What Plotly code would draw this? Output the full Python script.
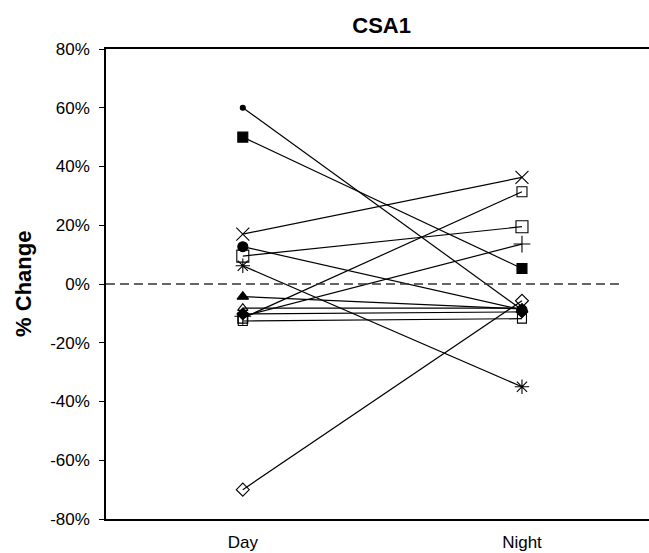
import plotly.graph_objects as go

# ---- data (percent change) ----
periods = ["Day", "Night"]
day_values = [60.0, 50.0, 17.0, 12.7, 9.5, 6.2, -4.3, -11.6, -11.0, -70.0, -8.2, -10.2, -12.6]
night_values = [-8.8, 5.3, 36.3, -8.8, 19.5, -35.0, -8.5, 31.4, 13.6, -5.7, -8.2, -9.5, -11.8]
subject_symbols = ["circle", "square", "x-thin-open", "circle", "square-open", "asterisk-open",
                   "triangle-up", "square-open", "cross-thin-open", "diamond-open",
                   "triangle-up-open", "diamond", "square-open"]
subject_sizes = [5, 10, 13, 10, 12, 12, 10, 10, 12, 10, 9, 9, 9]
y_tick_values = [-80, -60, -40, -20, 0, 20, 40, 60, 80]
y_tick_labels = ["-80%", "-60%", "-40%", "-20%", "0%", "20%", "40%", "60%", "80%"]

FONT = "Liberation Sans, Arial, sans-serif"

fig = go.Figure()
for i in range(len(day_values)):
    fig.add_trace(go.Scatter(
        x=[0, 1],
        y=[day_values[i], night_values[i]],
        mode="lines+markers",
        line=dict(color="black", width=1.2),
        marker=dict(symbol=subject_symbols[i], size=subject_sizes[i], color="black",
                    line=dict(color="black", width=1.1)),
        showlegend=False,
        hoverinfo="skip",
    ))

# dashed zero reference line
fig.add_shape(type="line", xref="x domain", yref="y", x0=0, x1=0.95, y0=0, y1=0,
              line=dict(color="#333333", width=1.3, dash="9px,5px"))

fig.add_annotation(text="<b>% Change</b>", textangle=-90, xref="paper", yref="paper",
                   x=-0.153, y=0.5, xanchor="center", yanchor="middle", showarrow=False,
                   font=dict(family=FONT, size=22, color="black"))

fig.update_layout(
    width=649, height=553,
    margin=dict(l=106, r=0, t=49, b=34),
    paper_bgcolor="white", plot_bgcolor="white",
    font=dict(family=FONT, size=17, color="black"),
    title=dict(text="<b>CSA1</b>", x=0.588, xanchor="center", y=0.955, yanchor="middle",
               font=dict(family=FONT, size=22, color="black")),
    xaxis=dict(range=[-0.49, 1.455], tickvals=[0, 1], ticktext=periods,
               showgrid=False, zeroline=False, showline=True, linecolor="black", linewidth=1.5,
               mirror=True, ticks="", ticklabelstandoff=7),
    yaxis=dict(range=[-80, 80], tickvals=y_tick_values, ticktext=y_tick_labels,
               showgrid=False, zeroline=False, showline=True, linecolor="black", linewidth=1.5,
               ticks="outside", ticklen=5, tickwidth=1.2, tickcolor="black", ticklabelstandoff=6),
)

fig.write_html("out.html")
